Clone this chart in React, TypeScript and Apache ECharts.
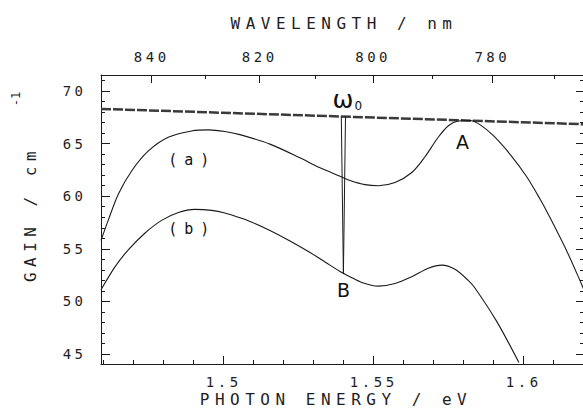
import React, { useEffect, useRef } from "react";
import * as echarts from "echarts";

// ---- constants / data ----
const HC = 1239.84; // eV·nm, wavelength <-> photon energy

const X_MIN = 1.4591;
const X_MAX = 1.6201;
const Y_MIN = 44.05;
const Y_MAX = 71.52;

const energyLabels = [1.5, 1.55, 1.6];
const energyMinorTicks = [1.46, 1.47, 1.48, 1.49, 1.51, 1.52, 1.53, 1.54, 1.56, 1.57, 1.58, 1.59, 1.61, 1.62];
const wavelengthLabels = [840, 820, 800, 780];
const wavelengthMinorTicks = [830, 810, 790, 770];
const gainLabels = [45, 50, 55, 60, 65, 70];
const gainMinorTicks = [45, 46, 47, 48, 49, 50, 51, 52, 53, 54, 55, 56, 57, 58, 59, 60, 61, 62, 63, 64, 65, 66, 67, 68, 69, 70, 71];

// curve (a)
const curveA: [number, number][] = [
  [1.4591, 55.8], [1.4615, 57.7], [1.4649, 60.2], [1.4693, 62.4], [1.4749, 64.3],
  [1.4815, 65.6], [1.4893, 66.2], [1.4949, 66.3], [1.5004, 66.15], [1.5054, 65.85],
  [1.5154, 64.95], [1.5254, 63.65], [1.5321, 62.7], [1.5388, 61.9], [1.5421, 61.5],
  [1.5471, 61.1], [1.5515, 61.0], [1.5571, 61.3], [1.5627, 62.25], [1.5671, 63.75],
  [1.5715, 65.6], [1.5749, 66.7], [1.5782, 67.15], [1.5821, 67.2], [1.5854, 66.8],
  [1.5899, 65.75], [1.5954, 64.0], [1.601, 61.85], [1.6054, 59.75], [1.6088, 57.95],
  [1.6145, 54.7], [1.6201, 51.1],
];

// curve (b)
const curveB: [number, number][] = [
  [1.4591, 51.1], [1.4638, 53.3], [1.4682, 54.9], [1.4738, 56.5], [1.4793, 57.7],
  [1.4849, 58.45], [1.4904, 58.75], [1.496, 58.65], [1.5004, 58.4], [1.5054, 57.95],
  [1.5088, 57.6], [1.5154, 56.75], [1.5221, 55.75], [1.5288, 54.65], [1.5343, 53.65],
  [1.5388, 52.85], [1.5421, 52.35], [1.546, 51.8], [1.5515, 51.45], [1.5571, 51.7],
  [1.5627, 52.35], [1.5682, 53.15], [1.5727, 53.45], [1.5771, 53.05], [1.5815, 52.0],
  [1.5838, 51.25], [1.591, 48.1], [1.5984, 44.2],
];

// loss / gain line
const gainLine: [number, number][] = [[1.4591, 68.3], [1.6201, 66.84]];

// omega_0 spike
const spikeLine: [number, number][] = [[1.5392, 67.6], [1.5399, 52.6], [1.5406, 67.6]];

// annotation texts & their anchor points
const curveLabelTexts = ["(a)", "(b)"];
const curveLabelPoints: [number, number][] = [[1.4895, 63.44], [1.4895, 56.88]];
const pointLabelTexts = ["A", "B"];
const pointLabelPoints: [number, number][] = [[1.5796, 65.18], [1.5399, 51.13]];
const omegaPoint: [number, number][] = [[1.5412, 69.25]];

const FONT = "DejaVu Sans Mono";
const INK = "#1e1e1e";

const css = `
#gchart svg text[style*="16px"]{letter-spacing:5.5px}
#gchart svg text[style*="15px"]{letter-spacing:7px}
#gchart svg text[style*="14px"]{letter-spacing:3.5px}
`;

function App() {
  const ref = useRef<HTMLDivElement>(null);

  useEffect(() => {
    const chart = echarts.init(ref.current!, null, { renderer: "svg" });
    const lineStyle = { color: "#1a1a1a", width: 1 };
    const tickLabel = { color: INK, fontFamily: FONT, fontSize: 14 };

    const xBase = { type: "value", min: X_MIN, max: X_MAX, splitLine: { show: false } };
    const yBase = { type: "value", min: Y_MIN, max: Y_MAX, splitLine: { show: false } };

    const hiddenSymbol = { symbolSize: 1, itemStyle: { color: "rgba(0,0,0,0)" } };
    const plainLabel = { textBorderWidth: 0, textShadowBlur: 0, opacity: 1 };

    const option: any = {
      animation: false,
      backgroundColor: "#ffffff",
      grid: { left: 101, top: 75, width: 483, height: 289, containLabel: false, outerBoundsMode: "none" },
      xAxis: [
        {
          ...xBase, position: "bottom",
          axisLine: { show: true, onZero: false, lineStyle },
          axisTick: { show: true, inside: true, length: 8, customValues: energyLabels, lineStyle },
          axisLabel: { show: true, customValues: energyLabels, formatter: (v: number) => String(v), margin: 11, ...tickLabel },
        },
        {
          ...xBase, position: "bottom",
          axisLine: { show: false },
          axisTick: { show: true, inside: true, length: 4, customValues: energyMinorTicks, lineStyle },
          axisLabel: { show: false },
        },
        {
          ...xBase, position: "top",
          axisLine: { show: true, onZero: false, lineStyle },
          axisTick: { show: true, inside: true, length: 8, customValues: wavelengthLabels.map((l) => HC / l), lineStyle },
          axisLabel: {
            show: true, customValues: wavelengthLabels.map((l) => HC / l),
            formatter: (v: number) => String(Math.round(HC / v)), margin: 11, ...tickLabel,
          },
        },
        {
          ...xBase, position: "top",
          axisLine: { show: false },
          axisTick: { show: true, inside: true, length: 4, customValues: wavelengthMinorTicks.map((l) => HC / l), lineStyle },
          axisLabel: { show: false },
        },
      ],
      yAxis: [
        {
          ...yBase, position: "left",
          axisLine: { show: true, onZero: false, lineStyle },
          axisTick: { show: true, inside: true, length: 9, customValues: gainLabels, lineStyle },
          axisLabel: { show: true, customValues: gainLabels, formatter: (v: number) => String(v), margin: 14.5, ...tickLabel },
        },
        {
          ...yBase, position: "left",
          axisLine: { show: false },
          axisTick: { show: true, inside: true, length: 4, customValues: gainMinorTicks, lineStyle },
          axisLabel: { show: false },
        },
        {
          ...yBase, position: "right",
          axisLine: { show: true, onZero: false, lineStyle },
          axisTick: { show: true, inside: true, length: 4, customValues: gainMinorTicks, lineStyle },
          axisLabel: { show: false },
        },
        {
          ...yBase, position: "right",
          axisLine: { show: false },
          axisTick: { show: true, inside: true, length: 8, customValues: gainLabels, lineStyle },
          axisLabel: { show: false },
        },
      ],
      graphic: [
        {
          type: "text", x: 344, y: 23,
          style: { text: "WAVELENGTH / nm", fontSize: 16, fontFamily: FONT, fill: INK, align: "center", verticalAlign: "middle", textAlign: "center", textVerticalAlign: "middle" },
        },
        {
          type: "text", x: 336, y: 399.5,
          style: { text: "PHOTON ENERGY / eV", fontSize: 16, fontFamily: FONT, fill: INK, align: "center", verticalAlign: "middle", textAlign: "center", textVerticalAlign: "middle" },
        },
        {
          type: "text", x: 30, y: 214, rotation: Math.PI / 2,
          style: { text: "GAIN / cm", fontSize: 16, fontFamily: FONT, fill: INK, align: "center", verticalAlign: "middle", textAlign: "center", textVerticalAlign: "middle" },
        },
        {
          type: "text", x: 16, y: 99, rotation: Math.PI / 2,
          style: { text: "-1", fontSize: 12, fontFamily: FONT, fill: INK, align: "center", verticalAlign: "middle", textAlign: "center", textVerticalAlign: "middle" },
        },
      ],
      series: [
        {
          name: "gain line", type: "line", data: gainLine, symbol: "none", silent: true,
          lineStyle: { color: "#3a3a3a", width: 2.5, type: [10, 2] },
        },
        {
          name: "(a)", type: "line", data: curveA, symbol: "none", smooth: 0.3, silent: true,
          lineStyle: { color: "#1a1a1a", width: 1.1 },
        },
        {
          name: "(b)", type: "line", data: curveB, symbol: "none", smooth: 0.3, silent: true,
          lineStyle: { color: "#1a1a1a", width: 1.1 },
        },
        {
          name: "omega0", type: "line", data: spikeLine, symbol: "none", silent: true,
          lineStyle: { color: "#1a1a1a", width: 1 },
        },
        {
          name: "curve labels", type: "scatter", silent: true, ...hiddenSymbol,
          data: curveLabelPoints.map((p, i) => ({ value: p, name: curveLabelTexts[i] })),
          label: { show: true, position: "inside", formatter: "{b}", color: "#111", fontFamily: FONT, fontSize: 15, ...plainLabel },
        },
        {
          name: "point labels", type: "scatter", silent: true, ...hiddenSymbol,
          data: pointLabelPoints.map((p, i) => ({ value: p, name: pointLabelTexts[i] })),
          label: { show: true, position: "inside", formatter: "{b}", color: "#111", fontFamily: "DejaVu Sans", fontSize: 19, ...plainLabel },
        },
        {
          name: "omega label", type: "scatter", silent: true, ...hiddenSymbol,
          data: omegaPoint,
          label: {
            show: true, position: "inside", formatter: "{w|ω}{s|0}", color: "#111", ...plainLabel,
            rich: {
              w: { fontFamily: "DejaVu Sans", fontSize: 25, color: "#111", verticalAlign: "bottom", lineHeight: 26, ...plainLabel },
              s: { fontFamily: "DejaVu Sans", fontSize: 12, color: "#111", verticalAlign: "bottom", lineHeight: 26, padding: [8, 0, 0, 1], ...plainLabel },
            },
          },
        },
      ],
    };

    chart.setOption(option);
    return () => chart.dispose();
  }, []);

  return (
    <>
      <style>{css}</style>
      <div
        id="gchart"
        ref={ref}
        style={{ position: "fixed", left: 0, top: 0, width: 583, height: 414, background: "#fff" }}
      />
    </>
  );
}

export default App;
